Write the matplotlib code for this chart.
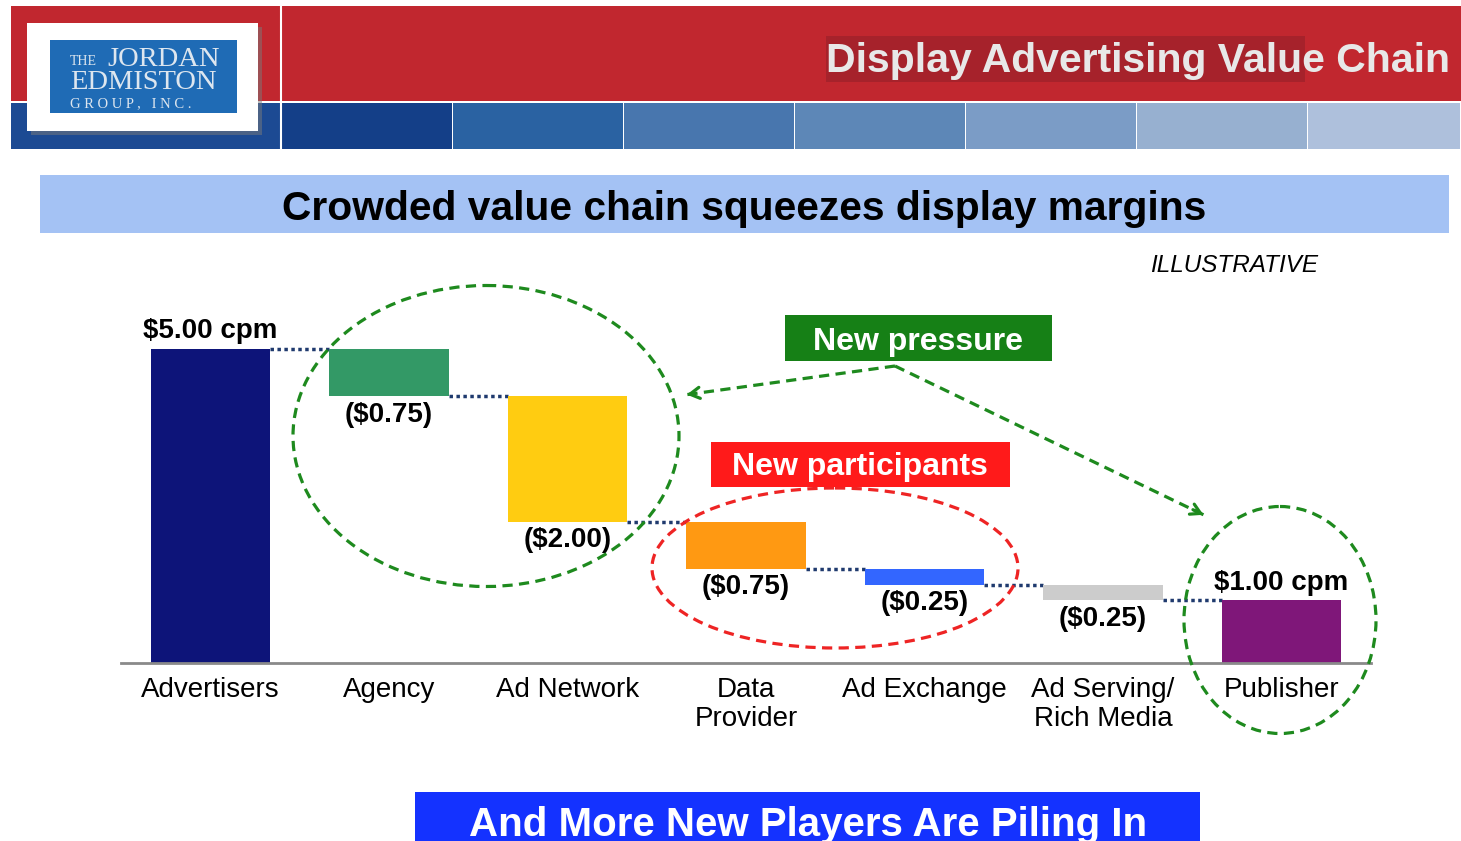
import matplotlib
matplotlib.use('Agg')
import matplotlib.pyplot as plt
from matplotlib.patches import Rectangle, Ellipse

plt.rcParams['font.family'] = ['Liberation Sans', 'DejaVu Sans']

# waterfall data (cpm)
categories = ['Advertisers', 'Agency', 'Ad Network', 'Data\nProvider',
              'Ad Exchange', 'Ad Serving/\nRich Media', 'Publisher']
changes = [5.00, -0.75, -2.00, -0.75, -0.25, -0.25]
publisher_total = 1.00
bar_labels = ['$5.00 cpm', '($0.75)', '($2.00)', '($0.75)', '($0.25)', '($0.25)', '$1.00 cpm']
bar_colors = ['#0d1479', '#339966', '#ffcc11', '#ff9912', '#3366ff', '#cccccc', '#7f1779']

# header strip shades
strip_edges = [11, 282, 453, 624, 795, 966, 1137, 1308, 1461]
strip_colors = ['#1c4a93', '#143f88', '#2a62a2', '#4876ae', '#5d87b7', '#7b9cc6', '#97b0d0', '#aec0dc']

W, H = 1461, 841
fig = plt.figure(figsize=(W / 100, H / 100), dpi=100)

# --- chart axes (waterfall) ---
ax = fig.add_axes([121.25 / W, (H - 663) / H, 1249.5 / W, 376.8 / H])
ax.set_xlim(-0.5, 6.5)
ax.set_ylim(0, 6)
ax.patch.set_alpha(0)
for s in ['top', 'right', 'left']:
    ax.spines[s].set_visible(False)
ax.spines['bottom'].set_color('#8a8a8a')
ax.spines['bottom'].set_linewidth(2)
ax.set_yticks([])
ax.set_xticks([])

bottoms, heights = [], []
level = 0
for i, c in enumerate(changes):
    if i == 0:
        bottoms.append(0)
        heights.append(c)
        level = c
    else:
        bottoms.append(level + c)
        heights.append(-c)
        level += c
bottoms.append(0)
heights.append(publisher_total)

bw = 0.667
xs = list(range(len(categories)))
ax.bar(xs, heights, bottom=bottoms, width=bw, color=bar_colors, zorder=2)

# dotted connectors between steps
tops = [b + h for b, h in zip(bottoms, heights)]
for i in range(len(xs) - 1):
    y = tops[i] if i == 0 else bottoms[i]
    ax.plot([xs[i] + bw / 2, xs[i + 1] - bw / 2], [y, y], linestyle=(0, (1, 1)),
            color='#1f3a6e', lw=2.5, zorder=1)

for i, lab in enumerate(bar_labels):
    if lab.startswith('$'):
        ax.annotate(lab, (xs[i], tops[i]), xytext=(0, 7.6), textcoords='offset points',
                    ha='center', va='baseline', fontsize=20, fontweight='bold')
    else:
        ax.annotate(lab, (xs[i], bottoms[i]), xytext=(0, -18.4), textcoords='offset points',
                    ha='center', va='baseline', fontsize=20, fontweight='bold')

# category names, one line at a time (29 px line pitch)
for i, cat in enumerate(categories):
    for k, line in enumerate(cat.split('\n')):
        ax.annotate(line, (xs[i], 0), xytext=(0, -24.5 - k * 20.9), textcoords='offset points',
                    ha='center', va='baseline', fontsize=20, annotation_clip=False)

# --- overlay in pixel coordinates for slide decorations ---
ov = fig.add_axes([0, 0, 1, 1])
ov.set_xlim(0, W)
ov.set_ylim(H, 0)
ov.axis('off')
ov.patch.set_alpha(0)

# header
ov.add_patch(Rectangle((11, 6), W - 11, 95, color='#c1272f', lw=0))
for i in range(len(strip_colors)):
    x0, x1 = strip_edges[i], strip_edges[i + 1]
    ov.add_patch(Rectangle((x0, 103), x1 - x0 - 1.5, 46, color=strip_colors[i], lw=0))
ov.plot([281, 281], [6, 149], color='white', lw=1.5)
ov.add_patch(Rectangle((826, 36), 479, 46, color='#a6222b', lw=0))
ov.text(1450, 72, 'Display Advertising Value Chain', ha='right', va='baseline',
        fontsize=29.5, fontweight='bold', color='#e8e8e8')

# logo
ov.add_patch(Rectangle((31, 27), 231, 108, color='#7a7a7a', alpha=0.5, lw=0))
ov.add_patch(Rectangle((27, 23), 231, 108, color='white', lw=0))
ov.add_patch(Rectangle((50, 40), 187, 73, color='#1f6bb5', lw=0))
ov.text(70, 65, 'THE', fontsize=10, color='#dde6ef', family='Liberation Serif', va='baseline')
ov.text(107, 66, 'JORDAN', fontsize=20.5, color='#dde6ef', family='Liberation Serif', va='baseline')
ov.text(70, 89, 'EDMISTON', fontsize=20.5, color='#dde6ef', family='Liberation Serif', va='baseline')
ov.text(70, 107, 'G R O U P ,   I N C .', fontsize=10.5, color='#dde6ef',
        family='Liberation Serif', va='baseline')

# subtitle banner
ov.add_patch(Rectangle((40, 175), 1409, 58, color='#a4c2f4', lw=0))
ov.text(744, 220, 'Crowded value chain squeezes display margins', ha='center', va='baseline',
        fontsize=29.3, fontweight='bold', color='black')
ov.text(1234, 272, 'ILLUSTRATIVE', ha='center', va='baseline', fontsize=17.5, style='italic')

# annotations
green = '#1e8a1e'
dash = (0, (3.2, 2))
ov.add_patch(Ellipse((486, 436), 386, 301, fill=False, ec=green, lw=2.3, ls=dash, zorder=3))
ov.add_patch(Ellipse((835, 568), 366, 160, fill=False, ec='#ee2424', lw=2.3, ls=dash, zorder=3))
ov.add_patch(Ellipse((1280, 620), 192, 227, fill=False, ec=green, lw=2.3, ls=dash, zorder=3))

start = (895, 366)
for tip in [(684, 395), (1206, 516)]:
    ov.plot([start[0], tip[0]], [start[1], tip[1]], color=green, lw=2.3, ls=dash, zorder=3)
    dx, dy = tip[0] - start[0], tip[1] - start[1]
    ov.annotate('', xy=tip, xytext=(tip[0] - dx * 0.05, tip[1] - dy * 0.05),
                arrowprops=dict(arrowstyle='->,head_length=0.7,head_width=0.4', color=green, lw=2.3),
                zorder=3)

ov.add_patch(Rectangle((785, 315), 267, 46, color='#168016', lw=0, zorder=4))
ov.text(918, 350, 'New pressure', ha='center', va='baseline', fontsize=23,
        fontweight='bold', color='white', zorder=5)
ov.add_patch(Rectangle((711, 442), 299, 45, color='#ff1a1a', lw=0, zorder=4))
ov.text(860, 475, 'New participants', ha='center', va='baseline', fontsize=23,
        fontweight='bold', color='white', zorder=5)

# bottom banner (text runs off the slide edge, as in the source)
ov.add_patch(Rectangle((415, 792), 785, 60, color='#1432ff', lw=0))
ov.text(808, 836, 'And More New Players Are Piling In', ha='center', va='baseline',
        fontsize=29, fontweight='bold', color='white')

fig.savefig('out.png', dpi=100)
